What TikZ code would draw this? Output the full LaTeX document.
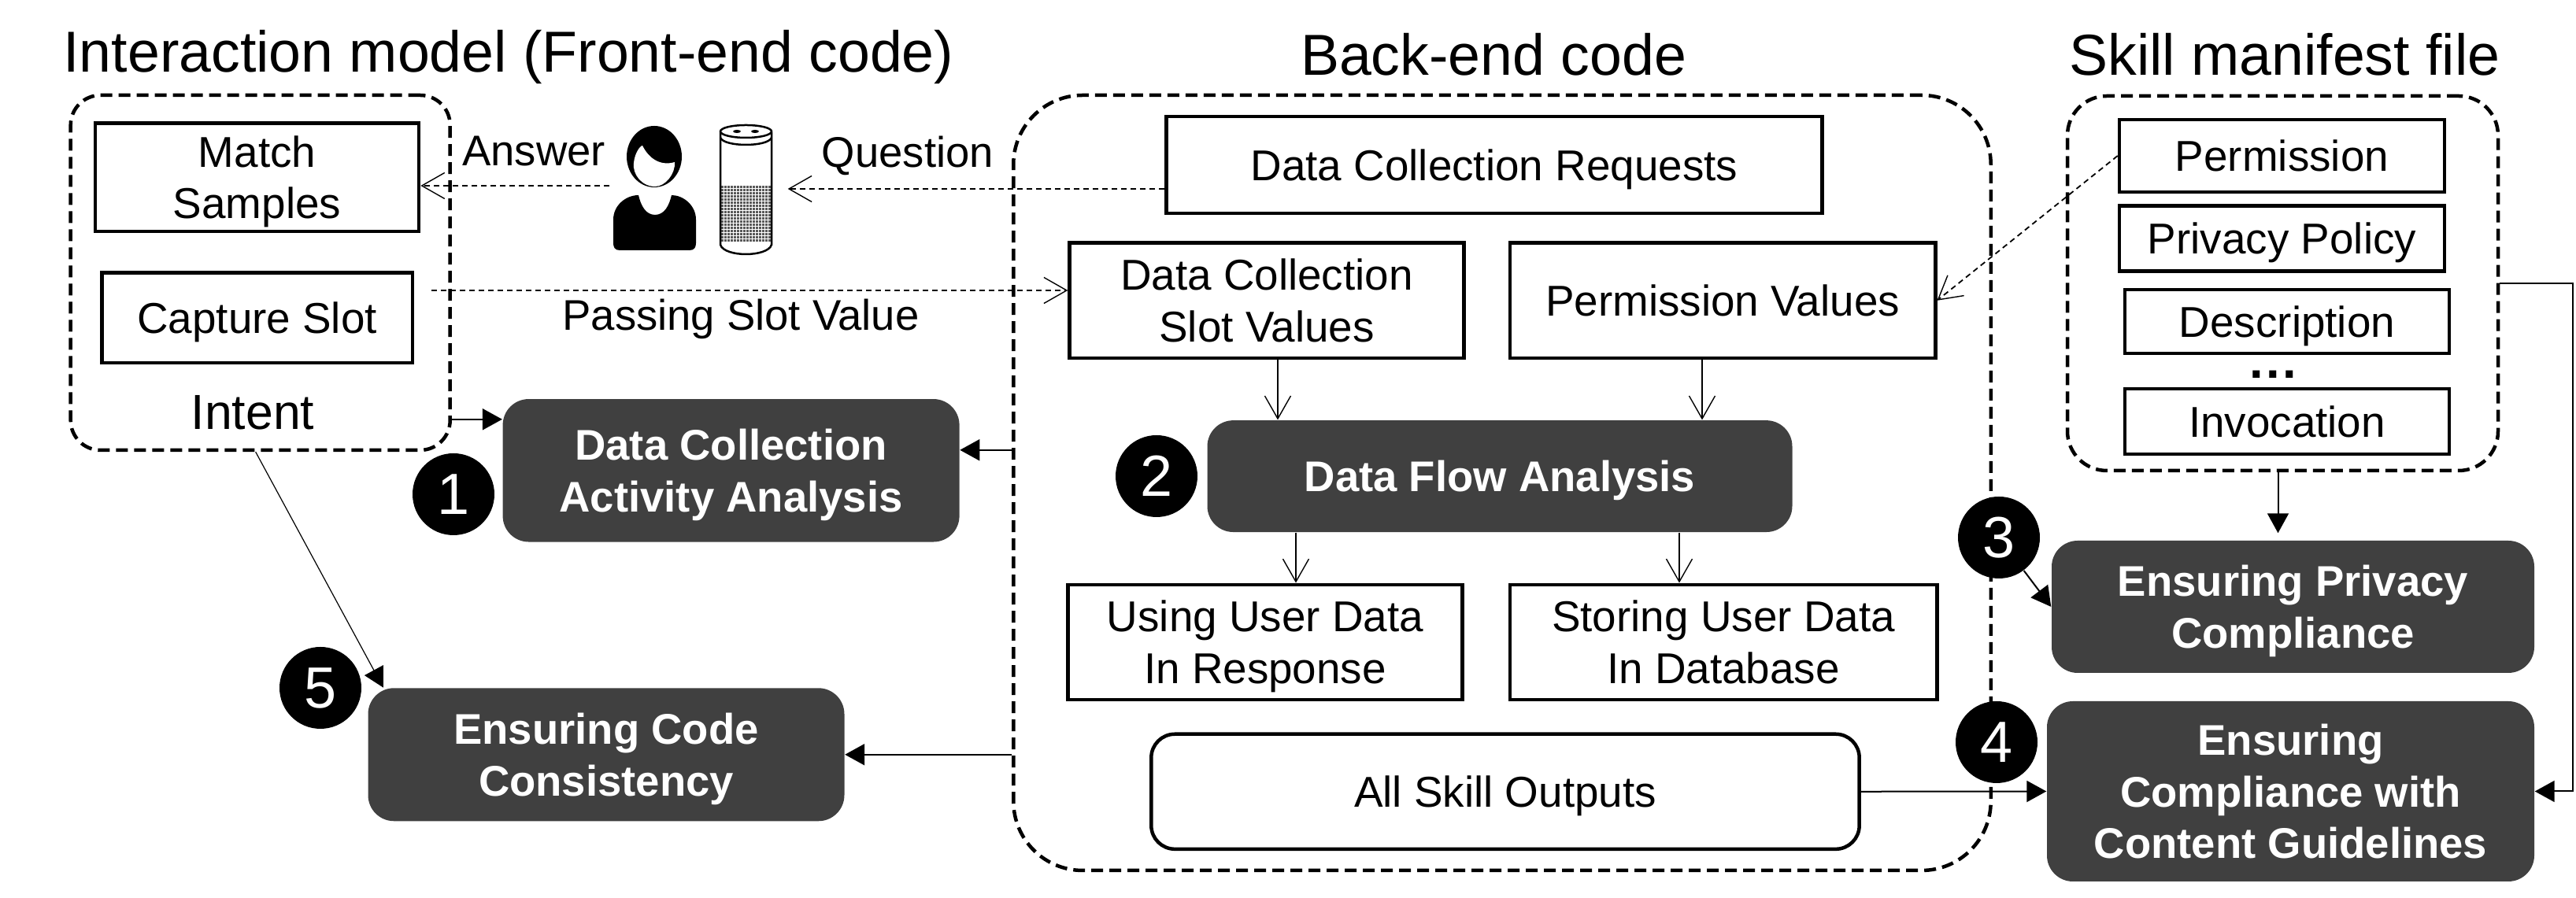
\documentclass[tikz,border=0pt]{standalone}
\usepackage{fontspec}
\setmainfont{Liberation Sans}
\usetikzlibrary{arrows.meta}
\begin{document}
\begin{tikzpicture}
[
textstrut/.style={execute at begin node={\rule{0pt}{15pt}}, execute at end node={\rule[-3.8pt]{0pt}{3.8pt}}},
multiline/.style={execute at begin node={\rule{0pt}{#1}}},
multiline/.default=33.6pt,
plainbox/.style={rectangle, draw=black, line width=.045cm, align=center, inner sep=0, textstrut, font=\fontsize{15.6}{18.6}\selectfont},
darkbox/.style={rectangle, rounded corners=.33cm, fill=black!75, text=white, align=center, inner sep=0, textstrut, font=\bfseries\fontsize{15.5}{18.6}\selectfont},
dashbox/.style={rectangle, draw=black, line width=.045cm, dash pattern=on .15cm off .08cm},
numdot/.style={circle, fill=black, text=white, minimum size=1.04cm, inner sep=0, font=\fontsize{21}{21}\selectfont},
title/.style={inner sep=0, font=\fontsize{20.9}{24}\selectfont},
caption/.style={inner sep=0, font=\fontsize{15.5}{18}\selectfont},
device/.style={inner sep=0, minimum height=2cm},
dashflow/.style={line width=.018cm, dash pattern=on .07cm off .05cm, -{Straight Barb[length=.29cm, width=.33cm, line width=.014cm]}},
openflow/.style={line width=.014cm, -{Straight Barb[length=.29cm, width=.33cm, line width=.014cm]}},
solidflow/.style={line width=.02cm, -{Triangle[length=.25cm, width=.27cm]}}
]
\useasboundingbox (0,0) rectangle (32.72,11.41);
%Containers
\node[dashbox, rounded corners=.38cm, minimum width=4.82cm, minimum height=4.51cm] (interaction) at(3.307,7.945) {};
\node[dashbox, rounded corners=.88cm, minimum width=12.415cm, minimum height=9.85cm] (backend) at(19.08,5.275) {};
\node[dashbox, rounded corners=.5cm, minimum width=5.47cm, minimum height=4.76cm] (manifest) at(28.995,7.81) {};
%Titles
\node[title] (t1) at(6.46,10.68) {Interaction model (Front-end code)};
\node[title] (t2) at(18.97,10.72) {Back-end code};
\node[title] (t3) at(29.02,10.72) {Skill manifest file};
%Nodes
\node[plainbox, multiline, minimum width=4.11cm, minimum height=1.377cm] (match) at(3.266,9.157) {Match\\Samples};
\node[plainbox, minimum width=3.944cm, minimum height=1.148cm] (capture) at(3.266,7.372) {Capture Slot};
\node[caption, font=\fontsize{17.8}{20}\selectfont] (intent) at(3.21,6.17) {Intent};
\node[caption] (answer) at(6.78,9.49) {Answer};
\node[caption] (question) at(11.53,9.43) {Question};
\node[caption] (passing) at(9.41,7.36) {Passing Slot Value};
\node[device, minimum width=1.12cm] (user) at(8.31,9.05) {};
\node[device, minimum width=1.05cm] (speaker) at(9.475,9.01) {};
\coordinate (slotout) at(5.48,7.72);
\coordinate (rightbend) at(32.68,7.81);

\node[plainbox, minimum width=8.326cm, minimum height=1.231cm] (requests) at(18.98,9.313) {Data Collection Requests};
\node[plainbox, multiline, minimum width=5.008cm, minimum height=1.461cm] (slotvals) at(16.09,7.592) {Data Collection\\Slot Values};
\node[plainbox, minimum width=5.405cm, minimum height=1.461cm] (permvals) at(21.88,7.592) {Permission Values};
\node[plainbox, multiline, minimum width=5.008cm, minimum height=1.461cm] (usingdata) at(16.07,3.251) {Using User Data\\In Response};
\node[plainbox, multiline, minimum width=5.425cm, minimum height=1.461cm] (storing) at(21.89,3.251) {Storing User Data\\In Database};
\node[plainbox, rounded corners=.3cm, minimum width=8.994cm, minimum height=1.461cm] (allskill) at(19.12,1.352) {All Skill Outputs};

\node[plainbox, minimum width=4.13cm, minimum height=.92cm] (permission) at(28.985,9.43) {Permission};
\node[plainbox, minimum width=4.13cm, minimum height=.83cm] (policy) at(28.985,8.38) {Privacy Policy};
\node[plainbox, minimum width=4.12cm, minimum height=.81cm] (description) at(29.05,7.323) {Description};
\node[inner sep=0, anchor=base, font=\bfseries\fontsize{18}{18}\selectfont] (dots) at(28.87,6.6) {.\kern1pt.\kern1pt.};
\node[plainbox, minimum width=4.12cm, minimum height=.83cm] (invocation) at(29.05,6.053) {Invocation};

\node[darkbox, multiline, minimum width=5.80cm, minimum height=1.815cm] (activity) at(9.286,5.432) {Data Collection\\Activity Analysis};
\node[darkbox, minimum width=7.43cm, minimum height=1.419cm] (dataflow) at(19.05,5.359) {Data Flow Analysis};
\node[darkbox, multiline, minimum width=6.05cm, minimum height=1.69cm] (code) at(7.70,1.822) {Ensuring Code\\Consistency};
\node[darkbox, multiline, minimum width=6.13cm, minimum height=1.68cm] (privacy) at(29.125,3.70) {Ensuring Privacy\\Compliance};
\node[darkbox, multiline=52.2pt, minimum width=6.19cm, minimum height=2.29cm] (compliance) at(29.095,1.355) {Ensuring\\Compliance with\\Content Guidelines};

\node[numdot] (n1) at(5.76,5.13) {1};
\node[numdot] (n2) at(14.69,5.36) {2};
\node[numdot] (n3) at(25.39,4.58) {3};
\node[numdot] (n4) at(25.36,1.98) {4};
\node[numdot] (n5) at(4.07,2.67) {5};

%Person
\fill[black] (8.31,9.42) ellipse (.35 and .39);
\fill[white] (8.16,9.56) .. controls (8.25,9.38) and (8.4,9.3) .. (8.57,9.35) .. controls (8.58,9.2) and (8.45,9.04) .. (8.32,9.04) .. controls (8.15,9.04) and (8.03,9.2) .. (8.05,9.34) .. controls (8.06,9.45) and (8.12,9.55) .. (8.16,9.56);
\fill[black] (7.87,8.23) .. controls (7.81,8.23) and (7.79,8.27) .. (7.79,8.32) -- (7.79,8.62) .. controls (7.79,8.8) and (7.95,8.93) .. (8.11,8.93) .. controls (8.14,8.8) and (8.2,8.68) .. (8.32,8.68) .. controls (8.44,8.68) and (8.5,8.8) .. (8.53,8.93) .. controls (8.68,8.93) and (8.84,8.8) .. (8.84,8.62) -- (8.84,8.32) .. controls (8.84,8.27) and (8.82,8.23) .. (8.76,8.23) -- cycle;

%Speaker
\fill[black!65] (9.15,8.34) rectangle (9.80,9.06);
\foreach \i in {0,...,18} \draw[white, line width=.008cm] (9.15,8.34+.04*\i) -- (9.80,8.34+.04*\i);
\foreach \i in {0,...,16} \draw[white, line width=.008cm] (9.15+.04*\i,8.34) -- (9.15+.04*\i,9.06);
\draw[black, line width=.025cm] (9.15,9.73) -- (9.15,8.30) .. controls (9.2,8.14) and (9.75,8.14) .. (9.80,8.30) -- (9.80,9.73);
\draw[black, line width=.025cm] (9.475,9.74) ellipse (.325 and .08);
\draw[black, line width=.025cm] (9.15,9.66) .. controls (9.2,9.54) and (9.75,9.54) .. (9.80,9.66);
\fill[black] (9.36,9.74) ellipse (.05 and .02);
\fill[black] (9.59,9.74) ellipse (.05 and .02);

%Connectors
\draw[dashflow] (user.west) -- (user.west -| match.east);
\draw[dashflow] (speaker.east -| requests.west) -- (speaker.east);
\draw[dashflow] (slotout) -- (slotout -| slotvals.west);
\draw[dashflow] (permission.west) -- (permvals.east);
\draw[openflow] ([xshift=.14cm]slotvals.south) -- ([xshift=.14cm]slotvals.south |- dataflow.north);
\draw[openflow] ([xshift=-.26cm]permvals.south) -- ([xshift=-.26cm]permvals.south |- dataflow.north);
\draw[openflow] ([xshift=.39cm]usingdata.north |- dataflow.south) -- ([xshift=.39cm]usingdata.north);
\draw[openflow] ([xshift=-.56cm]storing.north |- dataflow.south) -- ([xshift=-.56cm]storing.north);
\draw[solidflow] ([yshift=.65cm]activity.west -| interaction.east) -- ([yshift=.65cm]activity.west);
\draw[solidflow] ([yshift=.26cm]activity.east -| backend.west) -- ([yshift=.26cm]activity.east);
\draw[solidflow, line width=.012cm] ([xshift=-.06cm]interaction.south) -- ([xshift=.2cm]code.north west);
\draw[solidflow] (code.east -| backend.west) -- (code.east);
\draw[solidflow] (allskill.east) -- (compliance.west);
\draw[solidflow, shorten >=.09cm] ([xshift=-.06cm]manifest.south) -- ([xshift=-.06cm]manifest.south |- privacy.north);
\draw[solidflow] (manifest.east) -- (rightbend) |- (compliance.east);
\draw[solidflow] (n3) -- (privacy.west);
\end{tikzpicture}
\end{document}
